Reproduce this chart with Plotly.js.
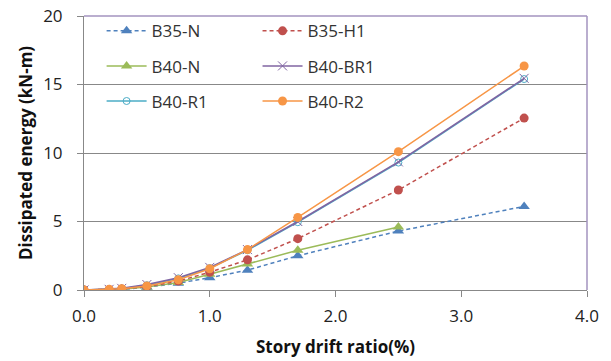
<!DOCTYPE html>
<html><head><meta charset="utf-8">
<script src="https://cdn.plot.ly/plotly-3.0.1.min.js"></script>
<style>html,body{margin:0;padding:0;background:#fff}#chart{width:611px;height:361px}</style>
</head><body><div id="chart"></div>
<script>
const drift = [0, 0.2, 0.3, 0.5, 0.75, 1.0, 1.3, 1.7, 2.5, 3.5];
const driftB40N = [0, 0.2, 0.3, 0.5, 0.75, 1.0, 1.3, 1.7, 2.5];
const b35N  = [0, 0.02, 0.05, 0.2, 0.5, 0.9, 1.45, 2.5, 4.3, 6.1];
const b35H1 = [0, 0.03, 0.08, 0.25, 0.65, 1.3, 2.2, 3.75, 7.3, 12.55];
const b40N  = [0, 0.02, 0.06, 0.22, 0.55, 1.15, 1.9, 2.9, 4.6];
const b40BR1 = [0, 0.05, 0.12, 0.4, 0.9, 1.65, 2.95, 5.0, 9.35, 15.45];
const b40R1 = [0, 0.05, 0.1, 0.35, 0.85, 1.6, 2.9, 4.95, 9.3, 15.4];
const b40R2 = [0, 0.05, 0.1, 0.3, 0.75, 1.55, 2.95, 5.3, 10.1, 16.35];
const xTicks = [0, 1, 2, 3, 4];
const xTickText = ['0.0', '1.0', '2.0', '3.0', '4.0'];
const yTicks = [0, 5, 10, 15, 20];

const font = "'Open Sans', 'Liberation Sans', sans-serif";
function tr(name, x, y, color, dash, symbol, size, legend) {
  return {
    type: 'scatter', mode: 'lines+markers', name: name, x: x, y: y,
    line: {color: color, width: 1.5, dash: dash},
    marker: {color: color, symbol: symbol, size: size},
    legend: legend, legendgroup: name
  };
}
const dashed = '4px,3px';
const data = [
  tr('B35-N', drift, b35N, '#4F81BD', dashed, 'triangle-up', 10, 'legend'),
  tr('B40-N', driftB40N, b40N, '#9BBB59', 'solid', 'triangle-up', 10, 'legend'),
  tr('B40-R1', drift, b40R1, '#4BACC6', 'solid', 'circle-open', 7, 'legend'),
  tr('B35-H1', drift, b35H1, '#C0504D', dashed, 'circle', 9, 'legend2'),
  tr('B40-BR1', drift, b40BR1, '#8064A2', 'solid', 'x-thin-open', 9, 'legend2'),
  tr('B40-R2', drift, b40R2, '#F79646', 'solid', 'circle', 9, 'legend2')
];
const legendBase = {
  bgcolor: 'rgba(0,0,0,0)', font: {family: font, size: 17, color: '#333'},
  tracegroupgap: 10, yanchor: 'top', itemwidth: 40, traceorder: 'grouped'
};
const layout = {
  width: 611, height: 361,
  margin: {l: 84, r: 24, t: 16, b: 71},
  paper_bgcolor: '#fff', plot_bgcolor: '#fff',
  font: {family: font, size: 17, color: '#222'},
  showlegend: true,
  legend: Object.assign({x: 0.035, y: 1.01}, legendBase),
  legend2: Object.assign({x: 0.345, y: 1.01}, legendBase),
  xaxis: {
    range: [0, 4], tickvals: xTicks, ticktext: xTickText,
    showgrid: false, zeroline: false, showline: true, linecolor: '#888', linewidth: 1,
    ticks: 'outside', ticklen: 6, tickcolor: '#888', ticklabelstandoff: 5,
    title: {text: '<b>Story drift ratio(%)</b>', font: {family: font, size: 17, color: '#111'}, standoff: 14}
  },
  yaxis: {
    range: [0, 20], tickvals: yTicks,
    showgrid: true, gridcolor: '#888', gridwidth: 1, zeroline: false,
    showline: true, linecolor: '#888', linewidth: 1,
    ticks: 'outside', ticklen: 6, tickcolor: '#888', ticklabelstandoff: 11,
    title: {text: '<b>Dissipated energy (kN-m)</b>', font: {family: font, size: 17, color: '#111'}, standoff: 6}
  },
  shapes: [
    {type: 'line', xref: 'paper', yref: 'paper', x0: 0, x1: 1, y0: 1, y1: 1, line: {color: '#A393BF', width: 1.5}},
    {type: 'line', xref: 'paper', yref: 'paper', x0: 1, x1: 1, y0: 0, y1: 1, line: {color: '#A393BF', width: 1.5}}
  ]
};
Plotly.newPlot('chart', data, layout, {displayModeBar: false, staticPlot: true});
</script></body></html>
